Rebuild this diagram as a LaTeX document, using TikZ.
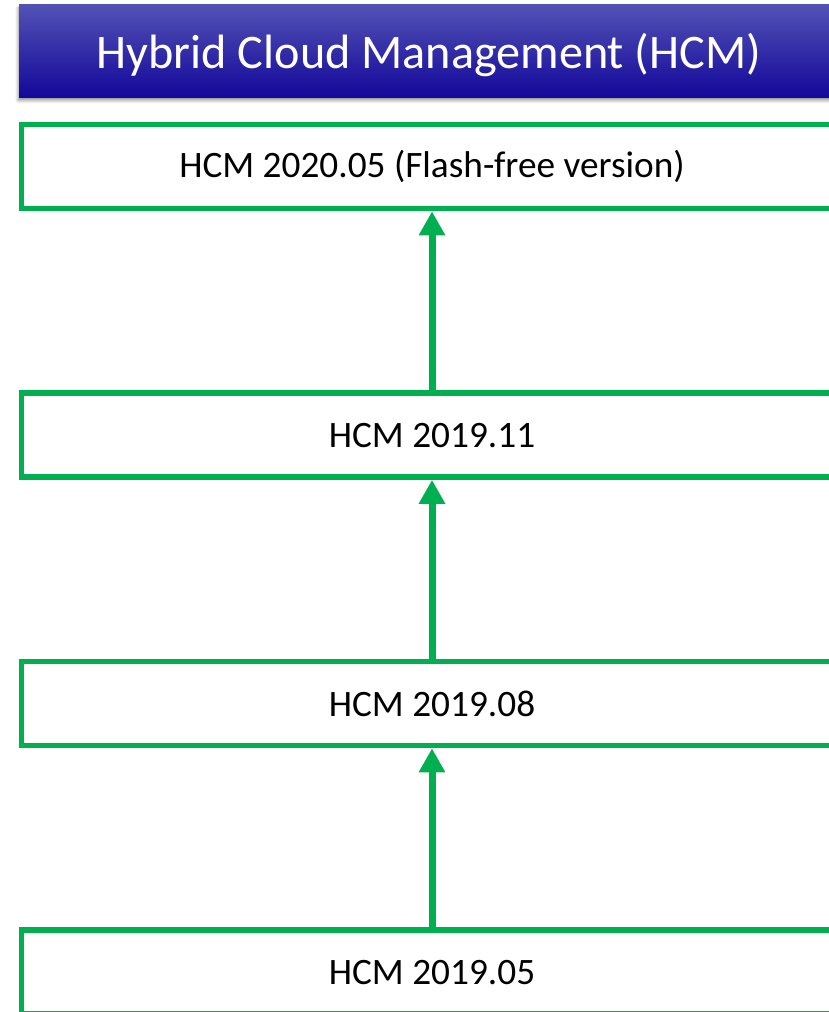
\documentclass[tikz,border=0pt]{standalone}
\usepackage{fontspec}
\setmainfont{Carlito}
\usepackage{xcolor}
\usepackage{tikz}
\usetikzlibrary{positioning, arrows.meta, shadows.blur}
\definecolor{hcmgreen}{HTML}{00B050}
\definecolor{hcmtop}{HTML}{5252B4}
\definecolor{hcmblue}{HTML}{1A0C9E}
\definecolor{hcmdark}{HTML}{13079A}

\tikzset{
  release/.style={draw=hcmgreen, line width=5.5pt, fill=white,
    minimum width=821pt, minimum height=84pt, inner sep=0pt,
    font=\fontsize{37.3}{44}\selectfont},
  upgrade/.style={draw=hcmgreen, line width=7pt,
    -{Triangle[length=24pt, width=25pt]}}
}

\begin{document}
\begin{tikzpicture}
  \useasboundingbox (0,0) rectangle (828pt,-1012pt);
  \node[top color=hcmtop, middle color=hcmblue, bottom color=hcmdark,
        minimum width=820pt, minimum height=92.7pt, inner sep=0pt,
        text height=36pt, text depth=2.6pt,
        text=white, font=\fontsize{48.2}{56}\selectfont,
        blur shadow={shadow xshift=-1pt, shadow yshift=-3pt,
                     shadow blur radius=3pt, shadow opacity=40}]
        (hdr) at (429pt,-51.3pt) {Hybrid Cloud Management (HCM)};

  \node[release, below=24pt of hdr, xshift=3pt] (v2005) {HCM 2020.05 (Flash-free version)};
  \node[release, below=179pt of v2005] (v1911) {HCM 2019.11};
  \node[release, below=179pt of v1911] (v1908) {HCM 2019.08};
  \node[release, below=179pt of v1908] (v1905) {HCM 2019.05};

  \draw[upgrade] (v1911.north) -- (v2005.south);
  \draw[upgrade] (v1908.north) -- (v1911.south);
  \draw[upgrade] (v1905.north) -- (v1908.south);
\end{tikzpicture}
\end{document}
